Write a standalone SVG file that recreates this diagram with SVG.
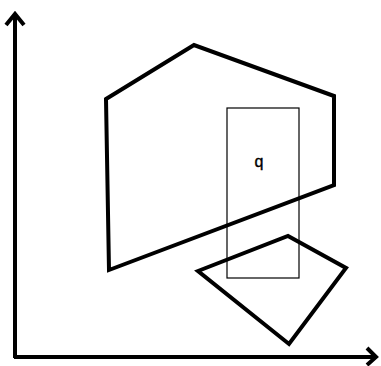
<svg xmlns="http://www.w3.org/2000/svg" width="381" height="366" viewBox="0 0 381 366">
<style>
.thick{fill:none;stroke:#000;stroke-width:4;stroke-linejoin:miter}
.thin{fill:none;stroke:#000;stroke-width:1.2}
.lbl{font-family:"Liberation Sans",Arial,sans-serif;font-size:16px;fill:#000;stroke:#000;stroke-width:0.4}
</style>
<rect width="381" height="366" fill="#fff"/>
<g id="axes">
<path class="thick" d="M15,358 V14 M6,25 L15,14 L24,25"/>
<path class="thick" d="M14,357 H376 M367,348 L376,357 L367,365"/>
</g>
<g id="pentagon"><polygon class="thick" points="106,99 194,45 334,96 334,185 109,270"/></g>
<g id="rect"><rect class="thin" x="227" y="108" width="72" height="170"/></g>
<g id="quad"><polygon class="thick" points="198,271 288,236 346,268 289,344"/></g>
<text class="lbl" x="259" y="167" text-anchor="middle">q</text>
</svg>
